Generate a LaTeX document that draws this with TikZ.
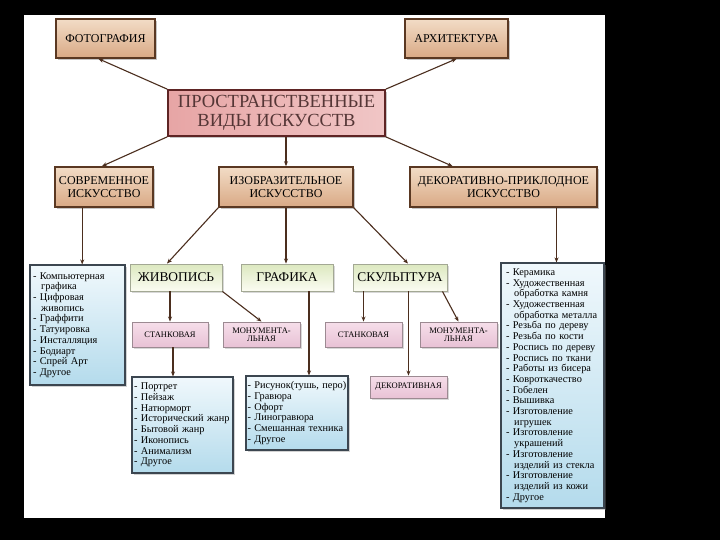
\documentclass[tikz,border=0pt]{standalone}
\usepackage{fontspec}
\setmainfont{Liberation Serif}
\usepackage{tikz}
\usetikzlibrary{arrows.meta,calc,shadows}
\definecolor{framebrown}{HTML}{5A3822}
\definecolor{beigetop}{HTML}{F2DCC6}
\definecolor{beigemid}{HTML}{FDF6EF}
\definecolor{beigebot}{HTML}{D9A985}
\definecolor{roseleft}{HTML}{E7A5A5}
\definecolor{rosemid}{HTML}{FBEEEE}
\definecolor{roseright}{HTML}{F0C6C6}
\definecolor{roseframe}{HTML}{5E2424}
\definecolor{rosetext}{HTML}{553636}
\definecolor{greentop}{HTML}{DCE8BF}
\definecolor{greenbot}{HTML}{FBFCF2}
\definecolor{greenframe}{HTML}{A3A894}
\definecolor{pinktop}{HTML}{F6DEEA}
\definecolor{pinkbot}{HTML}{E8C2D5}
\definecolor{pinkframe}{HTML}{9C8A92}
\definecolor{bluetop}{HTML}{F0F8FC}
\definecolor{bluebot}{HTML}{B4DBEC}
\definecolor{blueframe}{HTML}{3C4650}
\definecolor{linebrown}{HTML}{4B2E1E}
\newcommand{\wrapind}{\hspace*{0.8em}}
\tikzset{
  kindbox/.style={draw=framebrown,line width=1.6pt,rectangle,top color=beigetop,middle color=beigemid,bottom color=beigebot,
    drop shadow={opacity=0.45,shadow xshift=2pt,shadow yshift=-2pt},align=center,inner sep=0pt,
    font=\fontsize{12}{12.5}\selectfont},
  mainbox/.style={draw=roseframe,line width=1.8pt,rectangle,left color=roseleft,middle color=rosemid,right color=roseright,
    drop shadow={opacity=0.45,shadow xshift=2pt,shadow yshift=-2pt},align=center,inner sep=0pt,text=rosetext,
    font=\fontsize{18.5}{18.5}\selectfont},
  genrebox/.style={draw=greenframe,line width=0.9pt,rectangle,top color=greentop,bottom color=greenbot,
    drop shadow={opacity=0.3,shadow xshift=1.5pt,shadow yshift=-1.5pt},inner sep=0pt,
    font=\fontsize{13.4}{14}\selectfont},
  subbox/.style={draw=pinkframe,line width=0.9pt,rectangle,top color=pinktop,bottom color=pinkbot,
    drop shadow={opacity=0.3,shadow xshift=1.5pt,shadow yshift=-1.5pt},align=center,inner sep=0pt,
    font=\fontsize{8.5}{8.5}\selectfont},
  listbox/.style={draw=blueframe,line width=1.1pt,rectangle,top color=bluetop,bottom color=bluebot,
    drop shadow={opacity=0.35,shadow xshift=1.5pt,shadow yshift=-1.5pt},align=left,inner xsep=3pt,inner ysep=0pt,
    font=\fontsize{10.3}{10.7}\selectfont},
  conn/.style={draw=linebrown,line width=1.1pt,-{Stealth[length=5pt,width=4pt]}}
}
\begin{document}
\begin{tikzpicture}[x=1pt,y=-1pt]
\useasboundingbox (0,0) rectangle (720,540);
\fill[black] (0,0) rectangle (720,540);
\fill[white] (24,15) rectangle (605,518);

\node[kindbox,minimum width=99pt,minimum height=39pt] (foto) at (105.5,38.5) {ФОТОГРАФИЯ};
\node[kindbox,minimum width=103pt,minimum height=39pt] (arch) at (456.5,38.5) {АРХИТЕКТУРА};
\node[mainbox,minimum width=217pt,minimum height=46pt] (main) at (276.5,113) {ПРОСТРАНСТВЕННЫЕ\\ВИДЫ ИСКУССТВ};
\node[kindbox,minimum width=98pt,minimum height=40pt] (sovr) at (104,187) {СОВРЕМЕННОЕ\\ИСКУССТВО};
\node[kindbox,minimum width=134pt,minimum height=40pt] (izo) at (286,187) {ИЗОБРАЗИТЕЛЬНОЕ\\ИСКУССТВО};
\node[kindbox,minimum width=187pt,minimum height=40pt] (deko) at (503.5,187) {ДЕКОРАТИВНО-ПРИКЛОДНОЕ\\ИСКУССТВО};

\node[genrebox,minimum width=92pt,minimum height=27pt] (zhiv) at (176,277.5) {ЖИВОПИСЬ};
\node[genrebox,minimum width=92pt,minimum height=27pt] (graf) at (287,277.5) {ГРАФИКА};
\node[genrebox,minimum width=94pt,minimum height=27pt] (skul) at (400,277.5) {СКУЛЬПТУРА};

\node[subbox,minimum width=76pt,minimum height=25pt] (stankzh) at (170,334.5) {СТАНКОВАЯ};
\node[subbox,minimum width=77pt,minimum height=25pt] (monumzh) at (261.5,334.5) {МОНУМЕНТА-\\ЛЬНАЯ};
\node[subbox,minimum width=77pt,minimum height=25pt] (stanksk) at (363.5,334.5) {СТАНКОВАЯ};
\node[subbox,minimum width=77pt,minimum height=25pt] (monumsk) at (458.5,334.5) {МОНУМЕНТА-\\ЛЬНАЯ};
\node[subbox,minimum width=77pt,minimum height=22pt] (dekor) at (408.5,387) {ДЕКОРАТИВНАЯ};

\node[listbox,minimum width=95pt,minimum height=120pt,text width=89pt] (sovrlist) at (77.5,325) {
- Компьютерная\\\wrapind графика\\- Цифровая\\\wrapind живопись\\- Граффити\\- Татуировка\\- Инсталляция\\- Бодиарт\\- Спрей Арт\\- Другое};
\node[listbox,minimum width=101pt,minimum height=96pt,text width=97pt,inner xsep=2pt] (zhivlist) at (182.5,425) {
- Портрет\\- Пейзаж\\- Натюрморт\\- Исторический жанр\\- Бытовой жанр\\- Иконопись\\- Анимализм\\- Другое};
\node[listbox,minimum width=102pt,minimum height=74pt,text width=99pt,inner xsep=1.5pt] (graflist) at (297,413) {
- Рисунок(тушь, перо)\\- Гравюра\\- Офорт\\- Линогравюра\\- Смешанная техника\\- Другое};
\node[listbox,minimum width=103pt,minimum height=245pt,inner xsep=5pt,text width=93pt] (dekolist) at (552.5,385.5) {
- Керамика\\- Художественная\\\wrapind обработка камня\\- Художественная\\\wrapind обработка металла\\- Резьба по дереву\\- Резьба по кости\\- Роспись по дереву\\- Роспись по ткани\\- Работы из бисера\\- Ковроткачество\\- Гобелен\\- Вышивка\\- Изготовление\\\wrapind игрушек\\- Изготовление\\\wrapind украшений\\- Изготовление\\\wrapind изделий из стекла\\- Изготовление\\\wrapind изделий из кожи\\- Другое};

\coordinate (sovrdrop) at ($(sovr.south west)+(28,0)$);
\coordinate (grafdrop) at ($(graf.south)+(22,0)$);
\coordinate (dekodrop) at ($(dekolist.north)+(4,0)$);
\coordinate (stankdrop) at ($(stankzh.south)+(3,0)$);

\draw[conn] (main.north west) -- ($(foto.south)+(-7,0)$);
\draw[conn] (main.north east) -- (arch.south);
\draw[conn] (main.south west) -- ($(sovr.north)+(-2,0)$);
\draw[conn] (main.south -| izo.north) -- (izo.north);
\draw[conn] (main.south east) -- ($(deko.north west)!0.23!(deko.north east)$);
\draw[conn] (sovrdrop) -- (sovrdrop |- sovrlist.north);
\draw[conn] (izo.south west) -- ($(zhiv.north)+(-9,0)$);
\draw[conn] (izo.south) -- (izo.south |- graf.north);
\draw[conn] (izo.south east) -- ($(skul.north)+(8,0)$);
\draw[conn] (dekodrop |- deko.south) -- (dekodrop);
\draw[conn] (zhiv.south -| stankzh.north) -- (stankzh.north);
\draw[conn] (zhiv.south east) -- (monumzh.north);
\draw[conn] (grafdrop) -- (grafdrop |- graflist.north);
\draw[conn] (skul.south -| stanksk.north) -- (stanksk.north);
\draw[conn] ($(skul.south east)+(-5,0)$) -- (monumsk.north);
\draw[conn] (skul.south -| dekor.north) -- (dekor.north);
\draw[conn] (stankdrop) -- (stankdrop |- zhivlist.north);
\end{tikzpicture}
\end{document}
